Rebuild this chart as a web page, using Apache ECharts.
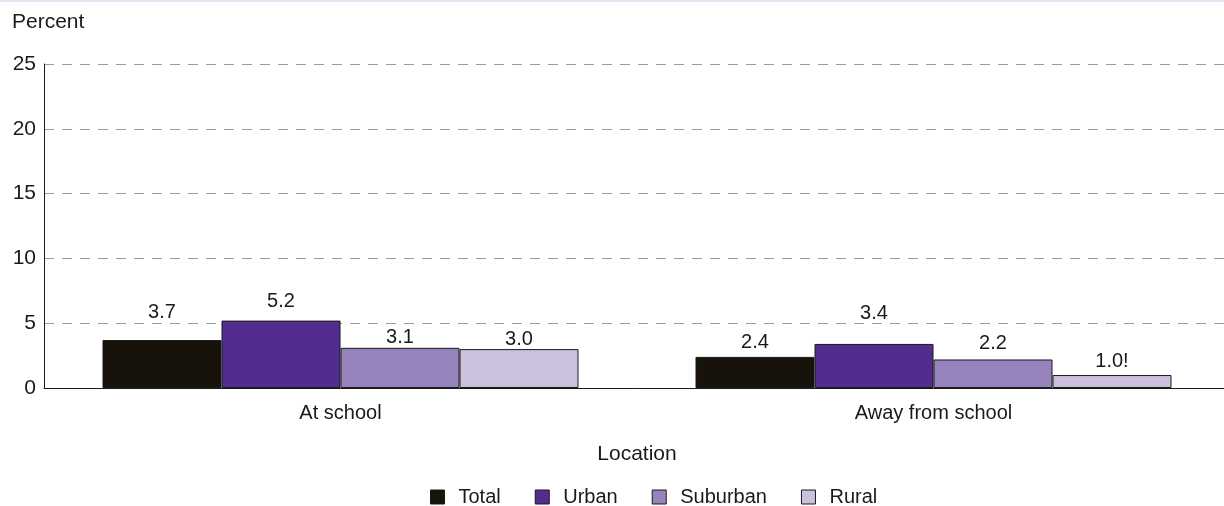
<!DOCTYPE html>
<html>
<head>
<meta charset="utf-8">
<script src="https://cdn.jsdelivr.net/npm/echarts@6/dist/echarts.min.js"></script>
<style>
  html, body { margin: 0; padding: 0; background: #ffffff; overflow: hidden; }
  #chart { width: 1232px; height: 506px; border-top: 2px solid #e6e4f2; box-sizing: border-box; }
</style>
</head>
<body>
<div id="chart"></div>
<script>
// Locations on the category axis
const categories = ['At school', 'Away from school'];

// Percent of students, by locale
const total    = [3.7, 2.4];
const urban    = [5.2, 3.4];
const suburban = [3.1, 2.2];
const rural    = [3.0, 1.0];

// Printed value labels (the "!" flags an estimate to interpret with caution)
const totalLabels    = ['3.7', '2.4'];
const urbanLabels    = ['5.2', '3.4'];
const suburbanLabels = ['3.1', '2.2'];
const ruralLabels    = ['3.0', '1.0!'];

const yTicks = { min: 0, max: 25, interval: 5 };

// Label lift above each bar, per category
const totalLift    = [18, 4];
const urbanLift    = [9, 20];
const suburbanLift = [0, 6];
const ruralLift    = [0, 4];

const FONT = '"Liberation Sans", Arial, sans-serif';
const TEXT = '#1a1a1a';
const FS = 20;

function makeSeries(name, values, labels, lifts, color) {
  return {
    name: name,
    type: 'bar',
    barWidth: 119,
    barGap: '0%',
    itemStyle: { color: color, borderColor: '#1a1a1a', borderWidth: 1 },
    data: values.map((v, i) => ({
      value: v,
      label: {
        show: true,
        position: 'top',
        distance: lifts[i],
        formatter: labels[i],
        fontFamily: FONT,
        fontSize: FS,
        color: TEXT
      }
    }))
  };
}

const chart = echarts.init(document.getElementById('chart'), null, { renderer: 'canvas' });

chart.setOption({
  animation: false,
  textStyle: { fontFamily: FONT },
  title: {
    text: 'Percent',
    left: 12,
    top: 10,
    padding: 0,
    textStyle: { fontFamily: FONT, fontSize: 21, fontWeight: 'normal', color: TEXT }
  },
  grid: { left: 44, top: 62, width: 1186, height: 324, containLabel: false },
  legend: {
    top: 485,
    left: 430,
    padding: 0,
    itemWidth: 14,
    itemHeight: 14,
    itemGap: 34,
    icon: 'rect',
    textStyle: { fontFamily: FONT, fontSize: FS, color: TEXT, padding: [0, 0, 0, 9] },
    itemStyle: { borderColor: '#1a1a1a', borderWidth: 1 },
    data: ['Total', 'Urban', 'Suburban', 'Rural']
  },
  xAxis: {
    type: 'category',
    data: categories,
    name: 'Location',
    nameLocation: 'middle',
    nameGap: 56,
    nameTextStyle: { fontFamily: FONT, fontSize: 21, color: TEXT },
    axisLine: { lineStyle: { color: '#1a1a1a', width: 1 } },
    axisTick: { show: false },
    axisLabel: { fontFamily: FONT, fontSize: FS, color: TEXT, margin: 15 }
  },
  yAxis: {
    type: 'value',
    min: yTicks.min,
    max: yTicks.max,
    interval: yTicks.interval,
    axisLine: { show: true, lineStyle: { color: '#1a1a1a', width: 1 } },
    axisTick: { show: false },
    axisLabel: { fontFamily: FONT, fontSize: 21, color: TEXT, margin: 8 },
    splitLine: { show: true, lineStyle: { color: '#9a9a9a', type: [10, 8], width: 1 } }
  },
  series: [
    makeSeries('Total', total, totalLabels, totalLift, '#17130a'),
    makeSeries('Urban', urban, urbanLabels, urbanLift, '#522d8f'),
    makeSeries('Suburban', suburban, suburbanLabels, suburbanLift, '#9884bc'),
    makeSeries('Rural', rural, ruralLabels, ruralLift, '#cbc1df')
  ]
});
</script>
</body>
</html>
